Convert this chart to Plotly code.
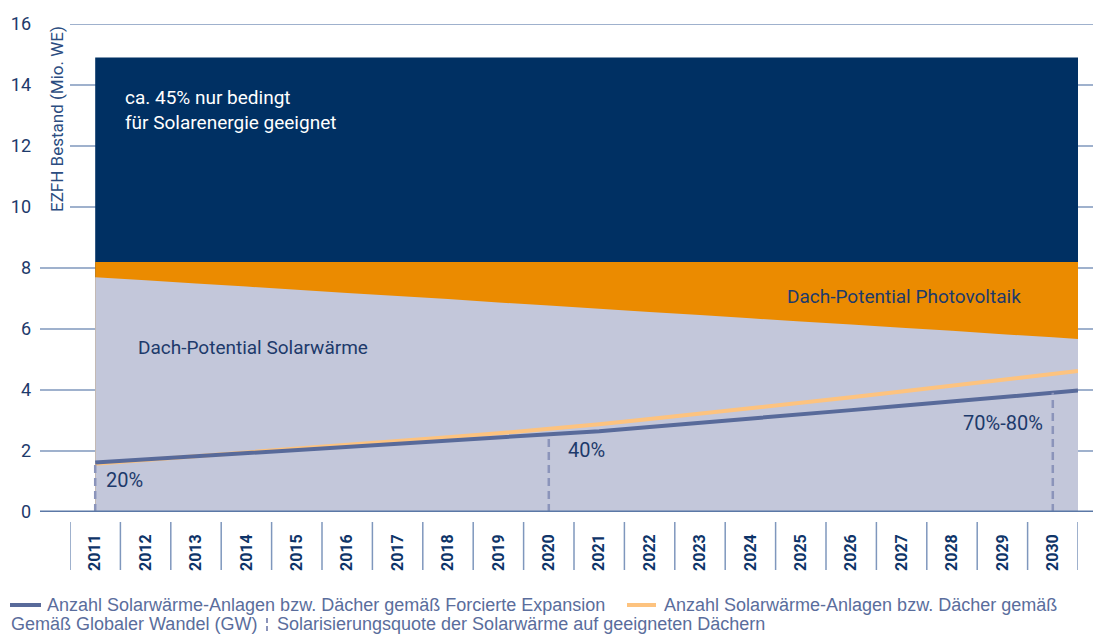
import plotly.graph_objects as go

# ---------------- data ----------------
years = list(range(2011, 2031))
x_edge = 2030.5  # right edge of the chart area (half category after 2030)

total_stock = 14.9          # EZFH Bestand (Mio. WE)
pv_potential = 8.2          # Dach-Potential Photovoltaik (upper limit)
solar_potential = [7.70, 7.60, 7.49, 7.39, 7.29, 7.18, 7.08, 6.98, 6.87, 6.77,
                   6.66, 6.56, 6.46, 6.35, 6.25, 6.15, 6.04, 5.94, 5.83, 5.73]
solar_potential_edge = 5.67
forcierte = [1.62, 1.72, 1.82, 1.92, 2.02, 2.12, 2.22, 2.32, 2.42, 2.52,
             2.65, 2.79, 2.92, 3.06, 3.20, 3.34, 3.48, 3.62, 3.77, 3.91]
forcierte_edge = 3.98
globaler = [1.58, 1.70, 1.82, 1.94, 2.06, 2.19, 2.32, 2.45, 2.58, 2.72,
            2.88, 3.05, 3.22, 3.39, 3.57, 3.76, 3.95, 4.15, 4.35, 4.55]
globaler_edge = 4.62
quote_years = [2011, 2020, 2030]
quote_labels = ["20%", "40%", "70%-80%"]
y_ticks = [0, 2, 4, 6, 8, 10, 12, 14, 16]

# ---------------- styles ----------------
NAVY = "#003063"
ORANGE = "#eb8b00"
LIGHT = "#c3c7da"
BLUE_LINE = "#586a9a"
ORANGE_LINE = "#fdc37f"
DASH = "#8b94ba"
TEXT = "#1d3a6b"
GRID = "#7f97bd"
LEG = "#5a6d9c"
FONT = "Roboto, Open Sans, sans-serif"

OFF = 8  # page body margin
W, H = 1101 - OFF, 636 - OFF
L, R, T, B = 62, 23, 16, 124
PW = W - L - R
PH = H - T - B


def px_x(p):
    return (p - OFF - L) / PW


def px_y(p):
    return (H - B - (p - OFF)) / PH


xs = years + [x_edge]
fig = go.Figure()

fig.add_trace(go.Scatter(x=xs, y=[total_stock] * len(xs), mode="none", fill="tozeroy",
                         fillcolor=NAVY, showlegend=False, hoverinfo="skip"))
fig.add_trace(go.Scatter(x=xs, y=[pv_potential] * len(xs), mode="none", fill="tozeroy",
                         fillcolor=ORANGE, showlegend=False, hoverinfo="skip"))
fig.add_trace(go.Scatter(x=xs, y=solar_potential + [solar_potential_edge], mode="none",
                         fill="tozeroy", fillcolor=LIGHT, showlegend=False, hoverinfo="skip"))
fig.add_trace(go.Scatter(x=xs, y=globaler + [globaler_edge], mode="lines",
                         line=dict(color=ORANGE_LINE, width=4), showlegend=False))
fig.add_trace(go.Scatter(x=xs, y=forcierte + [forcierte_edge], mode="lines",
                         line=dict(color=BLUE_LINE, width=4), showlegend=False))

# dashed verticals for Solarisierungsquote
dx, dy = [], []
for yr in quote_years:
    dx += [yr, yr, None]
    dy += [0, forcierte[years.index(yr)], None]
fig.add_trace(go.Scatter(x=dx, y=dy, mode="lines",
                         line=dict(color=DASH, width=2.5, dash="8px,5px"), showlegend=False))

shapes = []
# gridlines (extend beyond plot area)
for v in y_ticks:
    x0px = 40 if v <= 8 else 70
    shapes.append(dict(type="line", xref="paper", yref="y",
                       x0=px_x(x0px), x1=px_x(1101), y0=v, y1=v,
                       line=dict(color="#5b78a6" if v == 0 else GRID, width=3 if v == 0 else 1.5),
                       layer="below" if v != 0 else "above"))
# category separators below the axis
for xb in [yr - 0.5 for yr in years] + [x_edge]:
    shapes.append(dict(type="line", xref="x", yref="paper", x0=xb, x1=xb,
                       y0=-10 / PH, y1=-58 / PH, line=dict(color=GRID, width=1.5)))

# legend keys
shapes.append(dict(type="line", xref="paper", yref="paper", x0=px_x(10), x1=px_x(41),
                   y0=px_y(605), y1=px_y(605), line=dict(color=BLUE_LINE, width=4)))
shapes.append(dict(type="line", xref="paper", yref="paper", x0=px_x(627), x1=px_x(656),
                   y0=px_y(605), y1=px_y(605), line=dict(color=ORANGE_LINE, width=4)))
shapes.append(dict(type="line", xref="paper", yref="paper", x0=px_x(267), x1=px_x(267),
                   y0=px_y(618), y1=px_y(632), line=dict(color=DASH, width=2, dash="5px,3px")))

annotations = []
# quote labels
QF = dict(size=20, color=TEXT, family=FONT)
annotations.append(dict(x=2011, y=1.05, xref="x", yref="y", text=quote_labels[0], showarrow=False,
                        xanchor="left", xshift=9, font=QF))
annotations.append(dict(x=2020, y=2.03, xref="x", yref="y", text=quote_labels[1], showarrow=False,
                        xanchor="left", xshift=17, font=QF))
annotations.append(dict(x=2030, y=2.92, xref="x", yref="y", text=quote_labels[2], showarrow=False,
                        xanchor="right", xshift=-8, font=QF))
# area labels
AF = dict(size=19, color=TEXT, family=FONT)
annotations.append(dict(x=px_x(123), y=px_y(110), xref="paper", yref="paper",
                        text="ca. 45% nur bedingt<br>für Solarenergie geeignet", showarrow=False,
                        xanchor="left", yanchor="middle", align="left",
                        font=dict(size=19, color="white", family=FONT)))
annotations.append(dict(x=px_x(785), y=px_y(297), xref="paper", yref="paper",
                        text="Dach-Potential Photovoltaik", showarrow=False,
                        xanchor="left", yanchor="middle", font=AF))
annotations.append(dict(x=px_x(136), y=px_y(347), xref="paper", yref="paper",
                        text="Dach-Potential Solarwärme", showarrow=False,
                        xanchor="left", yanchor="middle", font=AF))
# y axis title
annotations.append(dict(x=px_x(57), y=px_y(24), xref="paper", yref="paper",
                        text="EZFH Bestand (Mio. WE)", textangle=-90, showarrow=False,
                        xanchor="center", yanchor="top",
                        font=dict(size=17, color="#2b4c80", family=FONT)))
# legend texts
LEGFONT = dict(size=18, color=LEG, family="Liberation Sans, Arial, sans-serif")
for txt, xp, yp in [
    ("Anzahl Solarwärme-Anlagen bzw. Dächer gemäß Forcierte Expansion", 45, 605),
    ("Anzahl Solarwärme-Anlagen bzw. Dächer gemäß", 662, 605),
    ("Gemäß Globaler Wandel (GW)", 9, 624),
    ("Solarisierungsquote der Solarwärme auf geeigneten Dächern", 275, 624),
]:
    annotations.append(dict(x=px_x(xp), y=px_y(yp), xref="paper", yref="paper", text=txt,
                            showarrow=False, xanchor="left", yanchor="middle", font=LEGFONT))

fig.update_layout(
    width=W, height=H,
    margin=dict(l=L, r=R, t=T, b=B, autoexpand=False),
    paper_bgcolor="white", plot_bgcolor="white",
    showlegend=False,
    shapes=shapes, annotations=annotations,
    xaxis=dict(range=[2010.5, x_edge], tickvals=years, ticktext=[str(y) for y in years],
               tickangle=-90, showgrid=False, zeroline=False, showline=False, ticks="",
               ticklabelstandoff=18, automargin=False,
               tickfont=dict(size=16, color="#0e3468", family="Roboto, sans-serif", weight="bold"),
               fixedrange=True),
    yaxis=dict(range=[0, 16], tickvals=y_ticks, showgrid=False, zeroline=False, showline=False,
               ticks="", ticklabelstandoff=38, automargin=False,
               tickfont=dict(size=18, color=TEXT, family=FONT), fixedrange=True),
)

fig.write_html("out.html")
